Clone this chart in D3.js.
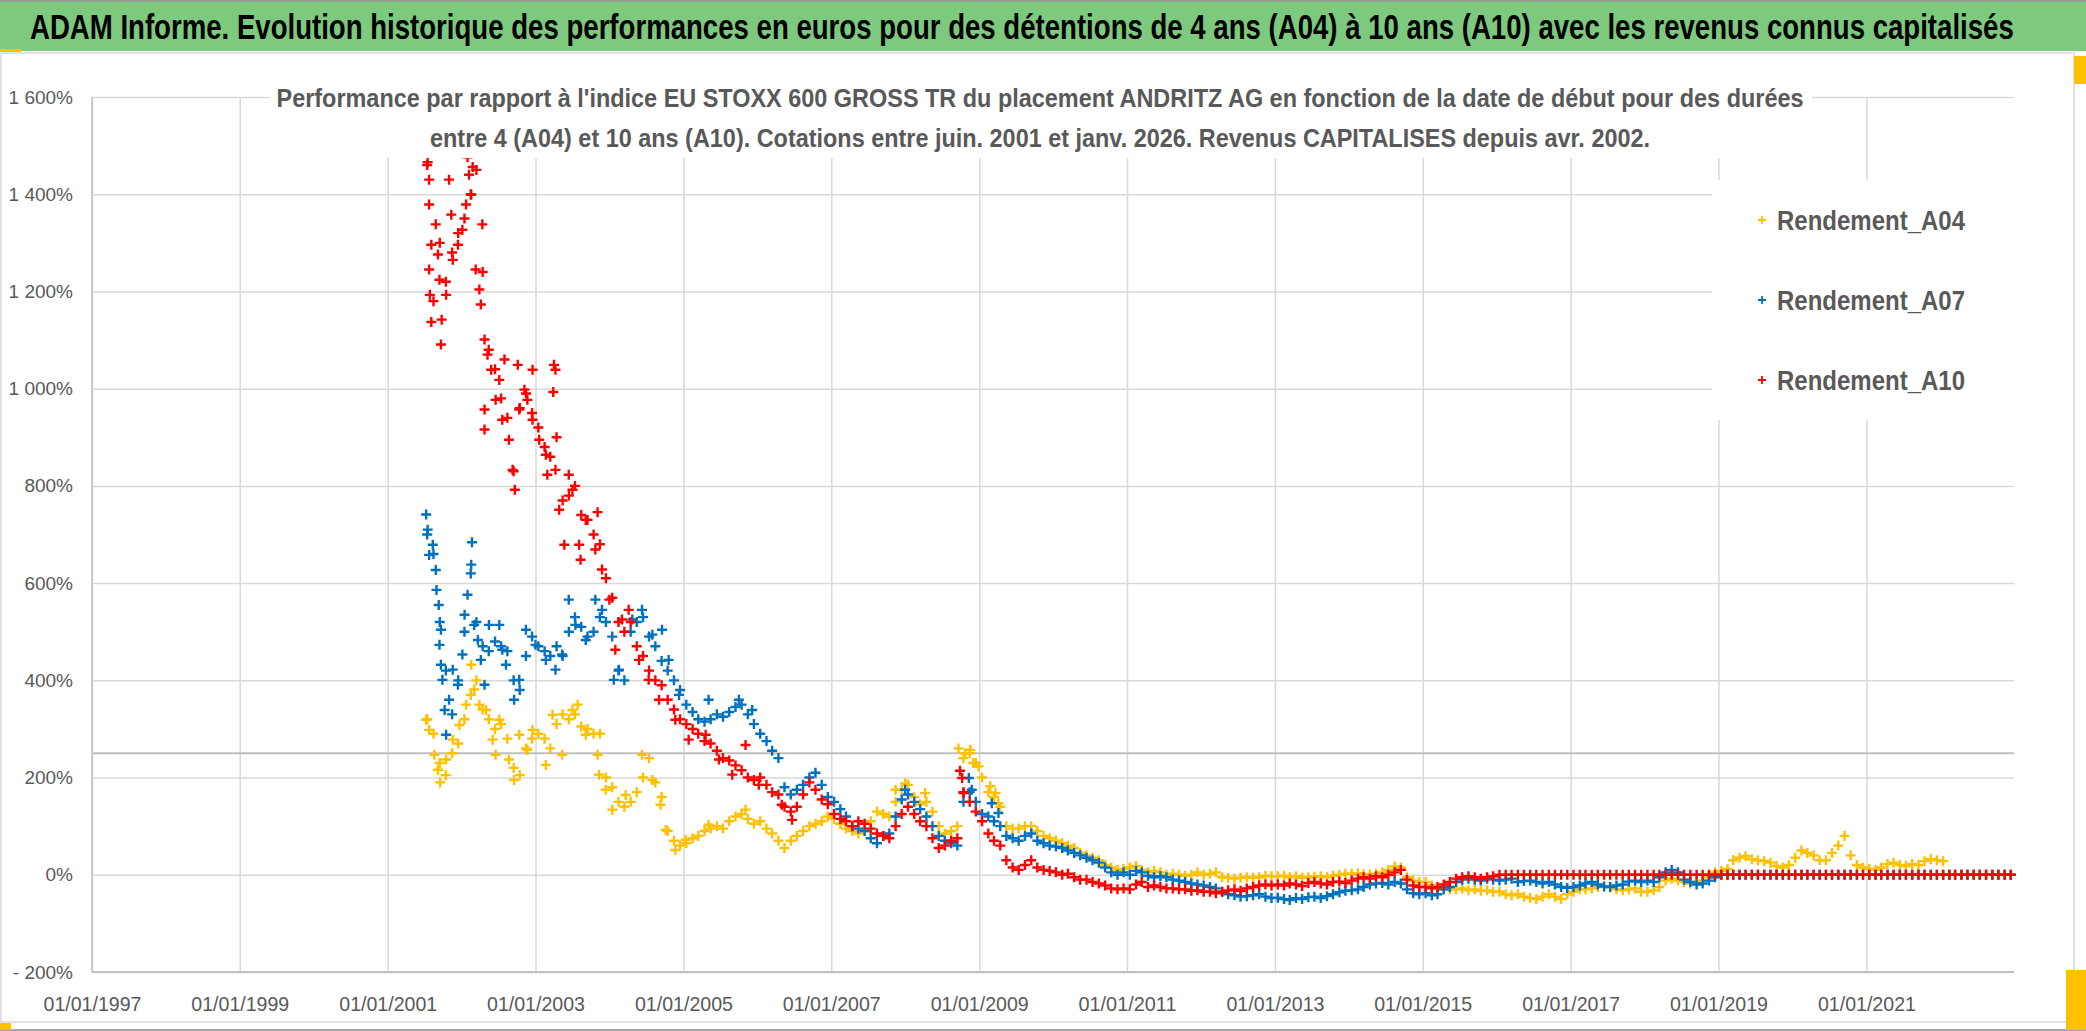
<html>
<head>
<meta charset="utf-8">
<title>ADAM Informe - ANDRITZ AG</title>
<script src="https://d3js.org/d3.v7.min.js"></script>
<style>
body { margin: 0; background: #fff; }
svg { display: block; }
.tick text { font-family: 'Liberation Sans', Arial, sans-serif; fill: #595959; }
</style>
</head>
<body>
<svg id="chart" width="2086" height="1031"></svg>

<script>
// monthly points, first one = juillet 2001, last one = décembre 2022
var firstMonth = [2001, 6];

// Rendement_A04 (jaune), one row per year
var rendA04 = [
  320, 290, 230, 205, 250, 270,
  320, 370, 400, 340, 320, 300, 310, 280, 220, 205, 260, 280,
  290, 280, 260, 310, 330, 320, 330, 305, 300, 290, 290, 200,
  180, 150, 140, 150, 170, 200, 240, 190, 160, 90, 70, 60,
  65, 75, 80, 90, 95, 100, 95, 110, 120, 125, 115, 105,
  110, 95, 85, 70, 55, 70, 80, 90, 100, 105, 110, 120,
  115, 105, 95, 90, 85, 90, 110, 130, 125, 120, 150, 175,
  185, 160, 145, 150, 130, 100, 85, 90, 100, 240, 250, 230,
  200, 170, 160, 140, 100, 95, 95, 100, 100, 90, 80, 75,
  70, 65, 60, 55, 45, 40, 35, 30, 20, 15, 10, 12,
  15, 18, 10, 5, 8, 5, 0, 2, 0, -2, 0, 5,
  0, 2, 5, -5, -6, -8, -6, -5, -6, -5, -2, -3,
  -3, -2, -5, -3, -6, -5, -4, -3, -5, -2, 0, 2,
  2, 3, 1, 0, 2, 5, 10, 17, 15, -5, -12, -15,
  -15, -22, -28, -30, -30, -30, -28, -32, -30, -33, -32, -35,
  -35, -40, -42, -40, -45, -48, -50, -45, -40, -45, -50, -40,
  -35, -30, -30, -28, -25, -24, -26, -30, -32, -30, -28, -35,
  -35, -32, -25, -12, -8, -12, -15, -18, -15, -12, -5, 5,
  8, 12, 30, 35, 38, 32, 30, 28, 25, 18, 15, 20,
  35, 50, 45, 40, 30, 30, 45, 60, 80, 40, 20, 15,
  12, 10, 15, 22, 25, 20, 18, 22, 20, 28, 32, 30,
  28, 0, 0, 0, 0, 0, 0, 0, 0, 0, 0, 0
];

// Rendement_A07 (bleu)
var rendA07 = [
  700, 660, 520, 420, 330, 400,
  500, 620, 520, 470, 460, 480, 470, 460, 400, 380, 450, 490,
  470, 460, 450, 470, 450, 500, 530, 510, 490, 500, 530, 520,
  490, 420, 400, 500, 520, 530, 490, 470, 440, 420, 400, 380,
  350, 335, 320, 315, 320, 330, 325, 335, 345, 350, 330, 310,
  290, 275, 255, 240, 180, 165, 175, 185, 200, 210, 185, 160,
  150, 135, 120, 100, 95, 90, 75, 65, 80, 85, 120, 155,
  165, 150, 135, 120, 100, 80, 70, 65, 60, 150, 170, 150,
  125, 120, 110, 100, 80, 75, 70, 80, 85, 70, 65, 60,
  58, 55, 50, 45, 40, 35, 30, 25, 15, 5, 0, 5,
  0, 8, 5, -2, -5, -3, -5, -10, -12, -15, -18, -20,
  -22, -25, -28, -35, -40, -42, -45, -44, -42, -40, -45, -48,
  -47, -50, -52, -48, -50, -46, -45, -48, -44, -40, -36, -33,
  -32, -30, -25, -20, -18, -17, -20, -15, -18, -30, -38, -40,
  -38, -42, -40, -30, -25, -15, -10, -8, -10, -12, -8, -10,
  -12, -10, -8, -15, -13, -12, -15, -18, -15, -20, -25, -27,
  -25, -22, -18, -15, -20, -24, -25, -22, -20, -14, -12, -15,
  -12, -15, -5, 5, 10, 5, -10, -15, -20, -18, -12, -5,
  0, 0, 0, 0, 0, 0, 0, 0, 0, 0, 0, 0,
  0, 0, 0, 0, 0, 0, 0, 0, 0, 0, 0, 0,
  0, 0, 0, 0, 0, 0, 0, 0, 0, 0, 0, 0,
  0, 0, 0, 0, 0, 0, 0, 0, 0, 0, 0, 0
];

// Rendement_A10 (rouge)
var rendA10 = [
  1460, 1180, 1300, 1220, 1280, 1320,
  1350, 1400, 1450, 1240, 1080, 1040, 980, 940, 830, 960, 990, 950,
  920, 880, 860, 900, 770, 780, 800, 740, 730, 700, 680, 610,
  570, 520, 500, 520, 470, 450, 420, 400, 390, 360, 340, 320,
  310, 300, 290, 275, 270, 255, 240, 235, 225, 215, 200, 195,
  200, 185, 170, 165, 140, 130, 140, 165, 190, 175, 155, 145,
  125, 115, 110, 100, 110, 105, 95, 85, 80, 75, 100, 125,
  140, 125, 110, 100, 75, 55, 60, 70, 75, 170, 150, 130,
  110, 85, 70, 60, 30, 15, 10, 20, 30, 15, 10, 8,
  5, 0, 2, -5, -10, -10, -15, -18, -22, -28, -30, -28,
  -30, -20, -15, -25, -22, -25, -28, -28, -30, -30, -33, -32,
  -35, -35, -38, -35, -32, -30, -33, -28, -25, -22, -20, -22,
  -20, -22, -18, -20, -23, -17, -15, -18, -20, -15, -14, -17,
  -12, -8, -5, -8, -3, -5, 0, 5, 10, -10, -22, -25,
  -25, -28, -25, -20, -15, -8, -5, -3, -5, -8, -5, -3,
  0, 0, 0, 0, 0, 0, 0, 0, 0, 0, 0, 0,
  0, 0, 0, 0, 0, 0, 0, 0, 0, 0, 0, 0,
  0, 0, 0, 0, 0, 0, 0, 0, 0, 0, 0, 0,
  0, 0, 0, 0, 0, 0, 0, 0, 0, 0, 0, 0,
  0, 0, 0, 0, 0, 0, 0, 0, 0, 0, 0, 0,
  0, 0, 0, 0, 0, 0, 0, 0, 0, 0, 0, 0,
  0, 0, 0, 0, 0, 0, 0, 0, 0, 0, 0, 0
];

// extra scattered points: [year as decimal, %]
var extraA04 = [
  [2001.52, 319], [2001.56, 298], [2001.63, 247], [2001.68, 216], [2001.71, 190],
  [2001.79, 237], [2001.88, 278], [2001.97, 308], [2002.06, 350], [2002.13, 432],
  [2002.17, 381], [2002.24, 350], [2002.33, 339], [2002.42, 278], [2002.46, 247],
  [2002.51, 319], [2002.64, 237], [2002.71, 195], [2002.78, 288], [2002.89, 257],
  [2002.96, 298], [2003.14, 226], [2003.23, 329], [2003.36, 247], [2003.50, 339],
  [2003.57, 350], [2003.68, 288], [2003.84, 247], [2003.86, 206], [2003.95, 175],
  [2004.04, 134], [2004.22, 164], [2004.44, 247], [2004.58, 195], [2004.69, 144],
  [2004.76, 92], [2004.89, 51], [2005.03, 72], [2005.34, 103], [2005.84, 134],
  [2007.87, 175], [2008.00, 188], [2008.27, 168], [2008.72, 260], [2008.81, 250],
  [2008.88, 257], [2008.92, 230], [2008.99, 223], [2009.15, 182], [2009.22, 168],
  [2009.26, 147]
];
var extraA07 = [
  [2001.52, 741], [2001.54, 710], [2001.56, 658], [2001.61, 679], [2001.65, 627],
  [2001.66, 586], [2001.69, 555], [2001.72, 504], [2001.70, 473], [2001.72, 432],
  [2001.74, 401], [2001.77, 339], [2001.79, 288], [2001.83, 360], [2001.88, 422],
  [2001.95, 391], [2002.01, 453], [2002.04, 535], [2002.08, 576], [2002.13, 638],
  [2002.14, 684], [2002.17, 514], [2002.22, 483], [2002.26, 442], [2002.31, 391],
  [2002.37, 514], [2002.51, 514], [2002.55, 463], [2002.60, 432], [2002.71, 360],
  [2002.78, 401], [2002.87, 504], [2003.00, 473], [2003.14, 442], [2003.27, 422],
  [2003.36, 453], [2003.45, 566], [2003.54, 514], [2003.68, 483], [2003.81, 566],
  [2003.90, 545], [2004.06, 401], [2004.13, 422], [2004.31, 525], [2004.44, 545],
  [2004.58, 494], [2004.71, 504], [2004.80, 442], [2004.94, 370], [2005.34, 360],
  [2005.75, 360], [2005.93, 339], [2008.00, 175], [2008.86, 199], [2008.90, 175],
  [2009.17, 147], [2009.26, 127]
];
var extraA10 = [
  [2001.54, 1466], [2001.56, 1430], [2001.56, 1379], [2001.59, 1296], [2001.56, 1245],
  [2001.57, 1193], [2001.59, 1137], [2001.65, 1338], [2001.68, 1276], [2001.70, 1224],
  [2001.72, 1091], [2001.73, 1142], [2001.79, 1193], [2001.83, 1430], [2001.86, 1358],
  [2001.88, 1265], [2001.95, 1296], [2002.01, 1327], [2002.06, 1379], [2002.10, 1440],
  [2002.13, 1399], [2002.15, 1456], [2002.08, 1476], [2002.19, 1245], [2002.24, 1204],
  [2002.26, 1173], [2002.28, 1338], [2002.31, 1101], [2002.35, 1070], [2002.40, 1039],
  [2002.31, 957], [2002.31, 916], [2002.46, 977], [2002.51, 1018], [2002.55, 936],
  [2002.58, 1060], [2002.64, 895], [2002.69, 833], [2002.72, 792], [2002.76, 1049],
  [2002.78, 957], [2002.85, 998], [2002.89, 977], [2002.96, 1039], [2002.96, 936],
  [2003.05, 895], [2003.14, 864], [2003.16, 823], [2003.25, 1049], [2003.27, 1039],
  [2003.24, 993], [2003.27, 833], [2003.32, 751], [2003.39, 679], [2003.45, 823],
  [2003.50, 792], [2003.59, 679], [2003.61, 648], [2003.68, 730], [2003.84, 746],
  [2003.81, 669], [2003.90, 628], [2004.00, 566], [2004.08, 463], [2004.17, 525],
  [2004.26, 545], [2004.40, 442], [2004.53, 401], [2004.67, 360], [2004.89, 319],
  [2005.07, 278], [2005.30, 288], [2005.48, 237], [2005.66, 206], [2005.84, 267],
  [2006.02, 185], [2006.33, 144], [2006.47, 113], [2008.74, 214], [2008.77, 199],
  [2008.79, 168]
];

var seriesNames = ["Rendement_A04", "Rendement_A07", "Rendement_A10"];
var seriesColors = ["#FFC000", "#0070C0", "#FF0000"];
var yTicks = [-200, 0, 200, 400, 600, 800, 1000, 1200, 1400, 1600];
var xTickYears = [1997, 1999, 2001, 2003, 2005, 2007, 2009, 2011, 2013, 2015, 2017, 2019, 2021];
var refLineValue = 250;

var titleText = "ADAM Informe. Evolution historique des performances en euros pour des détentions de 4 ans (A04) à 10 ans (A10) avec les revenus connus capitalisés";
var subTitle1 = "Performance par rapport à l'indice EU STOXX 600 GROSS TR  du placement ANDRITZ AG en fonction de la date de début pour des durées";
var subTitle2 = "entre 4 (A04) et 10 ans (A10). Cotations entre juin. 2001 et janv. 2026. Revenus CAPITALISES depuis avr. 2002.";

var svg = d3.select("#chart");
// (window.top is read-only, so no "top" variable here)
var plotL = 92, plotR = 2014, plotT = 97, plotB = 972;

var x = d3.scaleTime()
  .domain([new Date(1997, 0, 1), new Date(2022, 11, 31)])
  .range([plotL, plotR]);
var y = d3.scaleLinear().domain([-200, 1600]).range([plotB, plotT]);

// decimal year -> Date
function fromYear(t) {
  var yr = Math.floor(t);
  var a = new Date(yr, 0, 1), b = new Date(yr + 1, 0, 1);
  return new Date(+a + (t - yr) * (b - a));
}

// frame + green header band
svg.append("rect").attr("x", 0).attr("y", 0).attr("width", 2086).attr("height", 1031).attr("fill", "#fff");
svg.append("rect").attr("x", 1).attr("y", 53).attr("width", 2073).attr("height", 969)
  .attr("fill", "#fff").attr("stroke", "#D9D9D9").attr("stroke-width", 1.5);
svg.append("rect").attr("x", 0).attr("y", 0).attr("width", 2086).attr("height", 51).attr("fill", "#7DC97D");
svg.append("line").attr("x1", 0).attr("x2", 2086).attr("y1", 1).attr("y2", 1).attr("stroke", "#8FA08F").attr("stroke-width", 2);
svg.append("line").attr("x1", 0).attr("x2", 2086).attr("y1", 1030).attr("y2", 1030).attr("stroke", "#A6A6A6").attr("stroke-width", 2);
// little orange selection marks of the sheet
svg.append("rect").attr("x", 0).attr("y", 49).attr("width", 21).attr("height", 3).attr("fill", "#FFC000");
svg.append("rect").attr("x", 2074).attr("y", 56).attr("width", 12).attr("height", 28).attr("fill", "#FFC000");
svg.append("rect").attr("x", 2066).attr("y", 970).attr("width", 20).attr("height", 60).attr("fill", "#FFC000");
svg.append("rect").attr("x", 0).attr("y", 1023).attr("width", 11).attr("height", 7).attr("fill", "#FFC000");

// title squeezed horizontally (narrow font look) to fit its width
var titleG = svg.append("g");
var title = titleG.append("text")
  .attr("x", 0).attr("y", 0)
  .style("font-family", "'Liberation Sans', Arial, sans-serif")
  .style("font-size", "35px").style("font-weight", "bold").style("fill", "#000")
  .text(titleText);
var titleW = title.node().getComputedTextLength();
titleG.attr("transform", "translate(30,39) scale(" + (1985 / titleW) + ",1)");

// axes: tick lines are used as gridlines
var yAxis = d3.axisLeft(y)
  .tickValues(yTicks)
  .tickSize(-(plotR - plotL))
  .tickPadding(19)
  .tickFormat(function(d) {
    var s = d3.format(",")(Math.abs(d)).replace(",", " ") + "%";
    return d < 0 ? "- " + s : s;
  });
var gy = svg.append("g").attr("transform", "translate(" + plotL + ",0)").call(yAxis);
gy.select(".domain").remove();
gy.selectAll(".tick line").attr("stroke", "#D9D9D9").attr("stroke-width", 1.5);
gy.selectAll(".tick text").style("font-size", "19px");

var xAxis = d3.axisBottom(x)
  .tickValues(xTickYears.map(function(yr) { return new Date(yr, 0, 1); }))
  .tickSize(-(plotB - plotT))
  .tickPadding(24)
  .tickFormat(d3.timeFormat("%d/%m/%Y"));
var gx = svg.append("g").attr("transform", "translate(0," + plotB + ")").call(xAxis);
gx.select(".domain").remove();
gx.selectAll(".tick line").attr("stroke", "#D9D9D9").attr("stroke-width", 1.5);
gx.selectAll(".tick text").style("font-size", "21px")
  .attr("textLength", 98).attr("lengthAdjust", "spacingAndGlyphs");

// axis lines
svg.append("line").attr("x1", plotL).attr("x2", plotR).attr("y1", plotB).attr("y2", plotB)
  .attr("stroke", "#BFBFBF").attr("stroke-width", 2);
svg.append("line").attr("x1", plotL).attr("x2", plotL).attr("y1", plotT).attr("y2", plotB)
  .attr("stroke", "#BFBFBF").attr("stroke-width", 1.5);
// grey reference line
svg.append("line").attr("x1", plotL).attr("x2", plotR)
  .attr("y1", y(refLineValue)).attr("y2", y(refLineValue))
  .attr("stroke", "#BFBFBF").attr("stroke-width", 2);

// the crosses
var plus = "M-5,0H5M0,-5V5";
var monthly = [rendA04, rendA07, rendA10];
var extras = [extraA04, extraA07, extraA10];
monthly.forEach(function(values, k) {
  var pts = values.map(function(v, i) {
    return { date: new Date(firstMonth[0], firstMonth[1] + i, 15), v: v };
  });
  extras[k].forEach(function(p) { pts.push({ date: fromYear(p[0]), v: p[1] }); });
  svg.append("g").selectAll("path")
    .data(pts).enter().append("path")
    .attr("d", plus)
    .attr("transform", function(d) { return "translate(" + x(d.date) + "," + y(d.v) + ")"; })
    .attr("stroke", seriesColors[k])
    .attr("stroke-width", 2.4)
    .attr("fill", "none");
});

// chart subtitle (white box over the plot like excel)
svg.append("rect").attr("x", 270).attr("y", 78).attr("width", 1542).attr("height", 80).attr("fill", "#fff");
svg.append("text")
  .attr("x", 1040).attr("y", 107).attr("text-anchor", "middle")
  .attr("textLength", 1527).attr("lengthAdjust", "spacingAndGlyphs")
  .style("font-family", "'Liberation Sans', Arial, sans-serif")
  .style("font-size", "26px").style("font-weight", "bold").style("fill", "#595959")
  .text(subTitle1);
svg.append("text")
  .attr("x", 1040).attr("y", 147).attr("text-anchor", "middle")
  .attr("textLength", 1220).attr("lengthAdjust", "spacingAndGlyphs")
  .style("font-family", "'Liberation Sans', Arial, sans-serif")
  .style("font-size", "26px").style("font-weight", "bold").style("fill", "#595959")
  .text(subTitle2);

// legend
svg.append("rect").attr("x", 1712).attr("y", 180).attr("width", 303).attr("height", 240).attr("fill", "#fff");
var leg = svg.append("g").selectAll("g")
  .data(seriesNames).enter().append("g")
  .attr("transform", function(d, i) { return "translate(1762," + (220 + i * 80) + ")"; });
leg.append("path")
  .attr("d", "M-4,0H4M0,-4V4")
  .attr("stroke", function(d, i) { return seriesColors[i]; })
  .attr("stroke-width", 1.8);
leg.append("text")
  .attr("x", 15).attr("y", 10)
  .attr("textLength", 188).attr("lengthAdjust", "spacingAndGlyphs")
  .style("font-family", "'Liberation Sans', Arial, sans-serif")
  .style("font-size", "27px").style("font-weight", "bold").style("fill", "#595959")
  .text(function(d) { return d; });
</script>
</body>
</html>
